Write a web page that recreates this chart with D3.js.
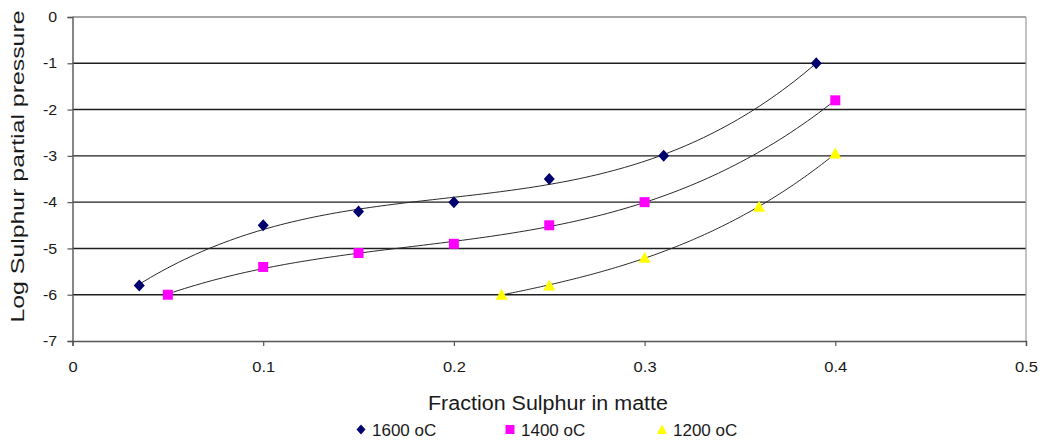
<!DOCTYPE html>
<html>
<head>
<meta charset="utf-8">
<script src="https://cdn.jsdelivr.net/npm/d3@7"></script>
<style>
  html, body { margin: 0; padding: 0; background: #fff; }
  svg { display: block; }
  text { font-family: "Liberation Sans", Arial, sans-serif; fill: #1a1a1a; }
</style>
</head>
<body>
<svg id="chart" width="1040" height="443"></svg>
<script>
// Sulphur partial pressure over matte, three temperatures
const seriesNames = ["1600 oC", "1400 oC", "1200 oC"];
const sulphur1600 = [0.035, 0.10, 0.15, 0.20, 0.25, 0.31, 0.39];
const logP1600    = [-5.8, -4.5, -4.2, -4.0, -3.5, -3.0, -1.0];
const sulphur1400 = [0.05, 0.10, 0.15, 0.20, 0.25, 0.30, 0.40];
const logP1400    = [-6.0, -5.4, -5.1, -4.9, -4.5, -4.0, -1.8];
const sulphur1200 = [0.225, 0.25, 0.30, 0.36, 0.40];
const logP1200    = [-6.0, -5.8, -5.2, -4.1, -2.95];
const xTicks = [0, 0.1, 0.2, 0.3, 0.4, 0.5];
const yTicks = [0, -1, -2, -3, -4, -5, -6, -7];
const markerColors = ["#00006e", "#ff00ff", "#ffff00"];
const markerShapes = ["diamond", "square", "triangle"];

const series = seriesNames.map((name, i) => {
  const xs = [sulphur1600, sulphur1400, sulphur1200][i];
  const ys = [logP1600, logP1400, logP1200][i];
  return { name, color: markerColors[i], shape: markerShapes[i],
           points: xs.map((x, j) => ({ x, y: ys[j] })) };
});

const svg = d3.select("#chart");
const plot = { left: 72.5, right: 1026, top: 17, bottom: 341 };

const x = d3.scaleLinear().domain([0, 0.5]).range([plot.left, plot.right]);
const y = d3.scaleLinear().domain([-7, 0]).range([plot.bottom, plot.top]);

// plain ASCII number labels (hyphen minus)
const plainNumber = d => String(d);

// least-squares cubic trendline
function polyfit(pts, order) {
  const n = order + 1;
  const A = Array.from({ length: n }, () => new Array(n + 1).fill(0));
  pts.forEach(p => {
    for (let r = 0; r < n; r++) {
      for (let c = 0; c < n; c++) A[r][c] += Math.pow(p.x, r + c);
      A[r][n] += p.y * Math.pow(p.x, r);
    }
  });
  for (let i = 0; i < n; i++) {
    let m = i;
    for (let k = i + 1; k < n; k++) if (Math.abs(A[k][i]) > Math.abs(A[m][i])) m = k;
    [A[i], A[m]] = [A[m], A[i]];
    for (let k = i + 1; k < n; k++) {
      const f = A[k][i] / A[i][i];
      for (let c = i; c <= n; c++) A[k][c] -= f * A[i][c];
    }
  }
  const coef = new Array(n).fill(0);
  for (let i = n - 1; i >= 0; i--) {
    let s = A[i][n];
    for (let c = i + 1; c < n; c++) s -= A[i][c] * coef[c];
    coef[i] = s / A[i][i];
  }
  return xv => coef.reduce((acc, c, k) => acc + c * Math.pow(xv, k), 0);
}

// horizontal gridlines
svg.append("g").selectAll("line")
  .data(yTicks.filter(t => t > -7))
  .join("line")
  .attr("x1", plot.left).attr("x2", plot.right)
  .attr("y1", d => y(d)).attr("y2", d => y(d))
  .attr("stroke", d => d === 0 ? "#8a8a8a" : "#1e1e1e")
  .attr("stroke-width", 1.4);

// plot-area right border
svg.append("line")
  .attr("x1", plot.right).attr("x2", plot.right)
  .attr("y1", plot.top).attr("y2", plot.bottom)
  .attr("stroke", "#9a9a9a").attr("stroke-width", 1.2);

// axes
const xAxis = svg.append("g")
  .attr("transform", `translate(0,${plot.bottom})`)
  .call(d3.axisBottom(x).tickValues(xTicks).tickFormat(plainNumber).tickSize(5).tickPadding(16));
const yAxis = svg.append("g")
  .attr("transform", `translate(${plot.left},0)`)
  .call(d3.axisLeft(y).tickValues(yTicks).tickFormat(plainNumber).tickSize(5).tickPadding(9));

[xAxis, yAxis].forEach(ax => {
  ax.select(".domain").attr("stroke", "#555").attr("stroke-width", 1.4);
  ax.selectAll(".tick line").attr("stroke", "#555").attr("stroke-width", 1.2);
  ax.selectAll(".tick text")
    .attr("font-family", "Liberation Sans, Arial, sans-serif")
    .attr("font-size", 14.5)
    .attr("fill", "#1a1a1a");
});
xAxis.selectAll(".tick text").attr("transform", "scale(1.14,1)");
yAxis.selectAll(".tick text").attr("transform", "scale(1.1,1)");

// trendlines
const line = d3.line().x(d => x(d.x)).y(d => y(d.y));
series.forEach(s => {
  const f = polyfit(s.points, 3);
  const [x0, x1] = d3.extent(s.points, d => d.x);
  const samples = d3.range(0, 121).map(i => {
    const xv = x0 + (x1 - x0) * i / 120;
    return { x: xv, y: f(xv) };
  });
  svg.append("path")
    .datum(samples)
    .attr("d", line)
    .attr("fill", "none")
    .attr("stroke", "#2a2a2a")
    .attr("stroke-width", 1);
});

// marker shapes
function markerPath(shape) {
  if (shape === "diamond") return "M0,-6L5.5,0L0,6L-5.5,0Z";
  if (shape === "square") return "M-5,-5H5V5H-5Z";
  return "M0,-6L6,5H-6Z";
}

series.forEach(s => {
  svg.append("g").selectAll("path")
    .data(s.points)
    .join("path")
    .attr("transform", d => `translate(${x(d.x)},${y(d.y)})`)
    .attr("d", markerPath(s.shape))
    .attr("fill", s.color);
});

// axis titles
svg.append("text")
  .attr("transform", "translate(24,166.5) rotate(-90)")
  .attr("text-anchor", "middle")
  .attr("font-size", 17.5)
  .attr("textLength", 312)
  .attr("lengthAdjust", "spacingAndGlyphs")
  .text("Log Sulphur partial pressure");

svg.append("text")
  .attr("x", 548).attr("y", 410)
  .attr("text-anchor", "middle")
  .attr("font-size", 19.5)
  .attr("textLength", 240)
  .attr("lengthAdjust", "spacingAndGlyphs")
  .text("Fraction Sulphur in matte");

// legend
const legendX = [361, 510, 662];
const legend = svg.append("g").selectAll("g")
  .data(series)
  .join("g")
  .attr("transform", (d, i) => `translate(${legendX[i]},429.5)`);
legend.append("path")
  .attr("d", d => d.shape === "diamond" ? "M0,-5L4.5,0L0,5L-4.5,0Z"
                 : d.shape === "square" ? "M-4.5,-4.5H4.5V4.5H-4.5Z"
                 : "M0,-5L5,4.5H-5Z")
  .attr("fill", d => d.color);
legend.append("text")
  .attr("x", 11).attr("y", 6.5)
  .attr("font-size", 17)
  .text(d => d.name);
</script>
</body>
</html>
